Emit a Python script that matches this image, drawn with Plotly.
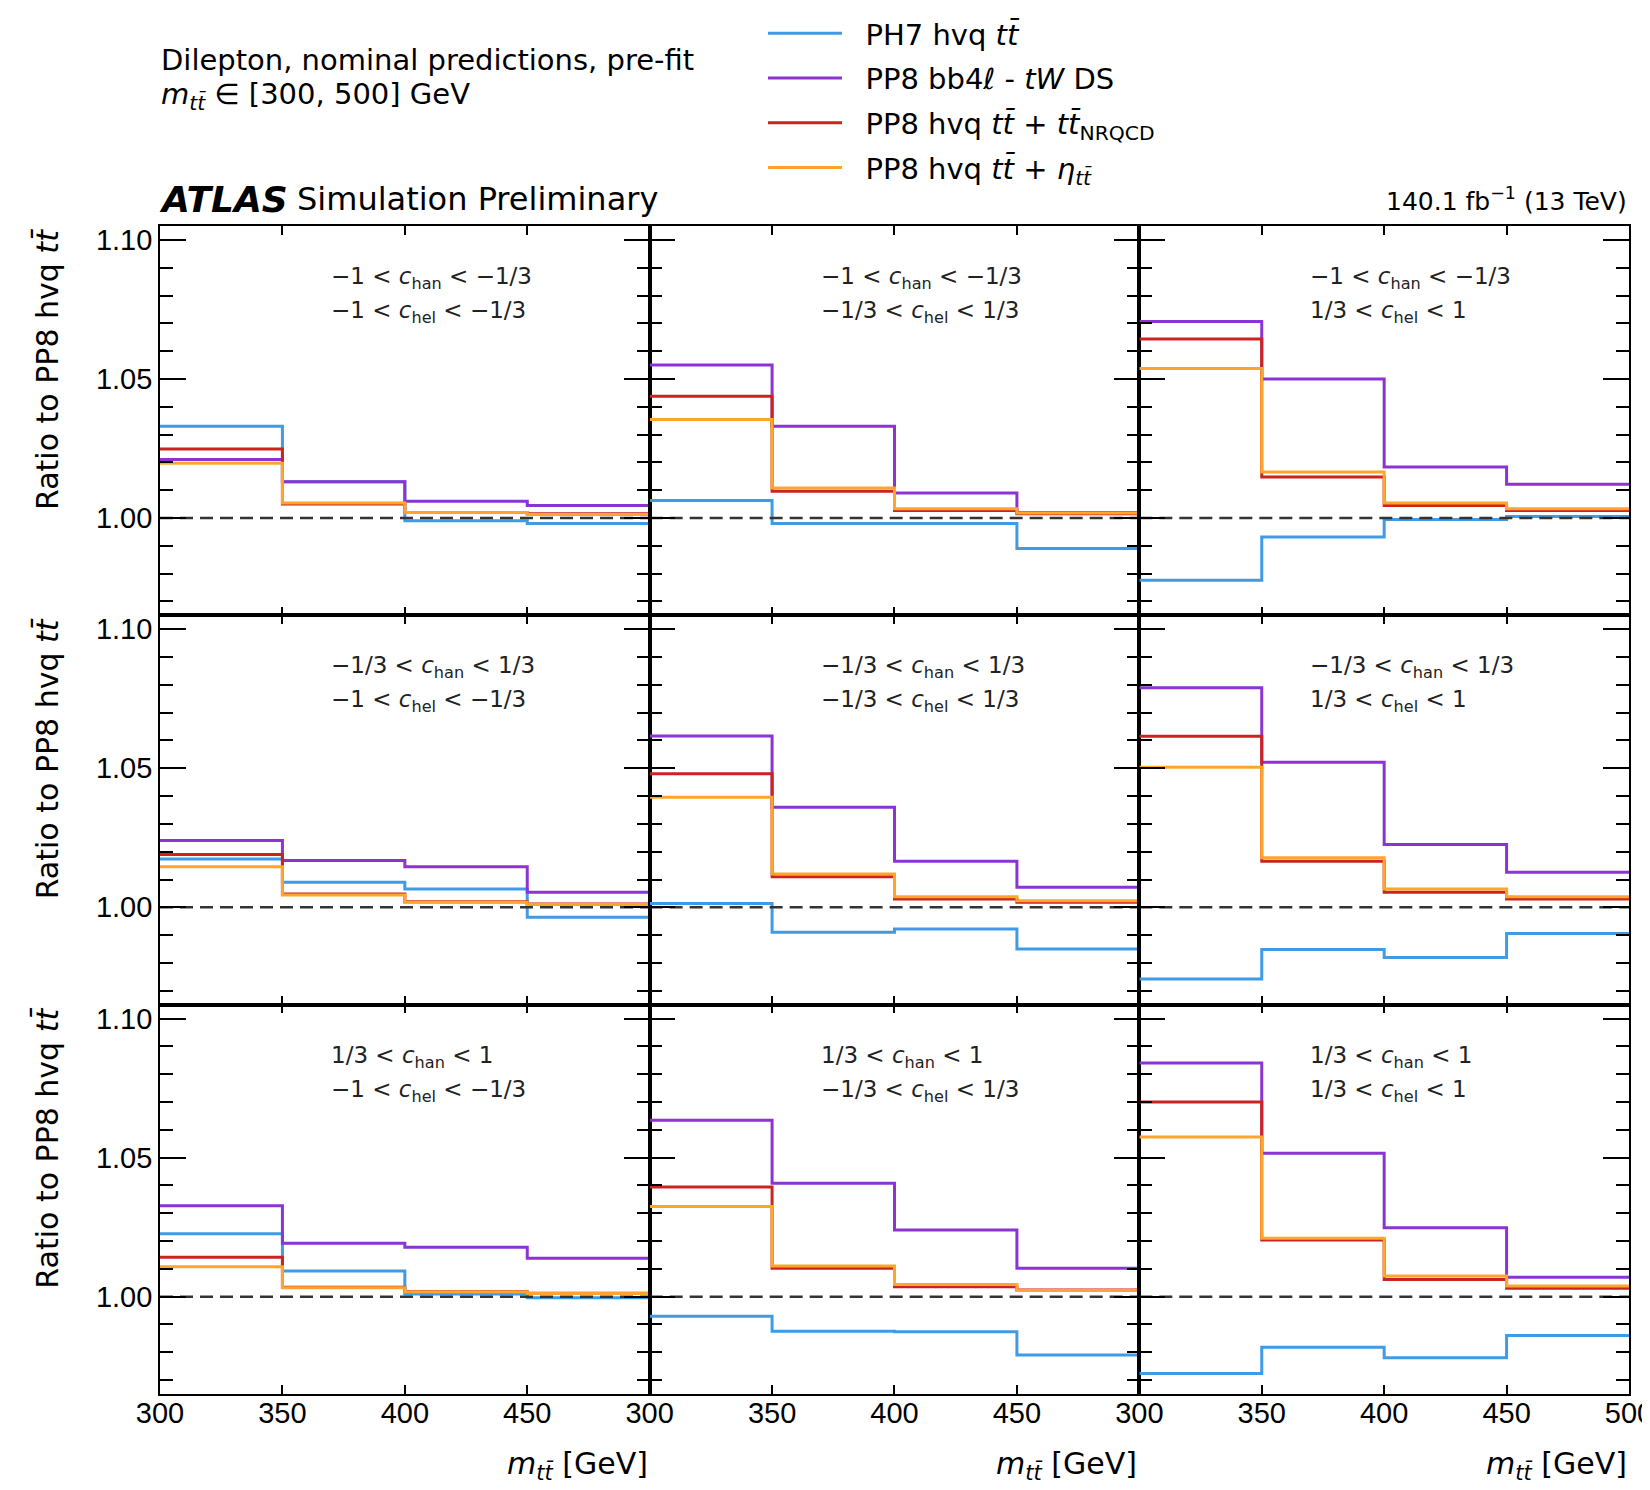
import plotly.graph_objects as go
from plotly.subplots import make_subplots

# ---------------- data ----------------
BIN_EDGES = [300, 350, 400, 450, 500]
REFERENCE_RATIO = 1.0

SERIES_NAMES = [
    "PH7 hvq <i>tt\u0304</i>",
    "PP8 bb4<i>\u2113</i> - <i>tW</i> DS",
    "PP8 hvq <i>tt\u0304</i> + <i>tt\u0304</i><sub>NRQCD</sub>",
    "PP8 hvq <i>tt\u0304</i> + <i>\u03b7</i><sub><i>tt\u0304</i></sub>",
]
SERIES_COLORS = ["#3f9be6", "#8c33d4", "#cc2320", "#ffa52b"]

# panels in row-major order: rows = c_han bins, columns = c_hel bins
PH7_HVQ = [
    [1.0330, 1.0130, 0.9990, 0.9980],
    [1.0063, 0.9980, 0.9980, 0.9890],
    [0.9776, 0.9932, 0.9995, 1.0005],
    [1.0174, 1.0090, 1.0066, 0.9964],
    [1.0014, 0.9910, 0.9922, 0.9850],
    [0.9742, 0.9848, 0.9820, 0.9906],
    [1.0226, 1.0092, 1.0010, 0.9996],
    [0.9930, 0.9876, 0.9874, 0.9790],
    [0.9724, 0.9818, 0.9780, 0.9860],
]
PP8_BB4L = [
    [1.0210, 1.0130, 1.0060, 1.0045],
    [1.0550, 1.0330, 1.0090, 1.0020],
    [1.0707, 1.0500, 1.0183, 1.0121],
    [1.0240, 1.0168, 1.0146, 1.0054],
    [1.0616, 1.0360, 1.0166, 1.0072],
    [1.0790, 1.0522, 1.0226, 1.0126],
    [1.0327, 1.0192, 1.0178, 1.0138],
    [1.0634, 1.0408, 1.0240, 1.0102],
    [1.0840, 1.0516, 1.0248, 1.0070],
]
PP8_NRQCD = [
    [1.0248, 1.0050, 1.0020, 1.0015],
    [1.0438, 1.0096, 1.0027, 1.0015],
    [1.0644, 1.0147, 1.0045, 1.0027],
    [1.0190, 1.0048, 1.0020, 1.0012],
    [1.0480, 1.0110, 1.0030, 1.0018],
    [1.0615, 1.0166, 1.0054, 1.0030],
    [1.0142, 1.0034, 1.0018, 1.0012],
    [1.0394, 1.0102, 1.0036, 1.0024],
    [1.0700, 1.0204, 1.0062, 1.0030],
]
PP8_ETA = [
    [1.0197, 1.0054, 1.0020, 1.0013],
    [1.0354, 1.0108, 1.0033, 1.0018],
    [1.0538, 1.0165, 1.0054, 1.0033],
    [1.0146, 1.0044, 1.0018, 1.0010],
    [1.0396, 1.0120, 1.0038, 1.0024],
    [1.0504, 1.0178, 1.0066, 1.0038],
    [1.0108, 1.0032, 1.0017, 1.0011],
    [1.0324, 1.0110, 1.0044, 1.0022],
    [1.0574, 1.0210, 1.0074, 1.0038],
]
SERIES_VALUES = [PH7_HVQ, PP8_BB4L, PP8_NRQCD, PP8_ETA]

CHAN_LABELS = [
    "\u22121 &lt; <i>c</i><sub>han</sub> &lt; \u22121/3",
    "\u22121/3 &lt; <i>c</i><sub>han</sub> &lt; 1/3",
    "1/3 &lt; <i>c</i><sub>han</sub> &lt; 1",
]
CHEL_LABELS = [
    "\u22121 &lt; <i>c</i><sub>hel</sub> &lt; \u22121/3",
    "\u22121/3 &lt; <i>c</i><sub>hel</sub> &lt; 1/3",
    "1/3 &lt; <i>c</i><sub>hel</sub> &lt; 1",
]
X_TICKS = [300, 350, 400, 450, 500]
Y_RANGE = [0.965, 1.105]

# ---------------- layout constants ----------------
OFF = 8                      # page body margin
W, H = 1642, 1482
ML, MR, MT, MB = 152, 21, 218, 96
PW = W - ML - MR
PH = H - MT - MB

TEXT_FONT = "DejaVu Sans"
TICK_FONT = "Liberation Sans, Arial"


def px_x(X):
    """page x pixel -> paper x"""
    return (X - OFF - ML) / PW


def px_y(Y):
    """page y pixel -> paper y"""
    return (H - MB - (Y - OFF)) / PH


fig = make_subplots(rows=3, cols=3, horizontal_spacing=0, vertical_spacing=0)

for p in range(9):
    r, c = p // 3 + 1, p % 3 + 1
    for s in range(4):
        vals = SERIES_VALUES[s][p]
        fig.add_trace(
            go.Scatter(
                x=BIN_EDGES,
                y=list(vals) + [vals[-1]],
                mode="lines",
                line=dict(color=SERIES_COLORS[s], width=3, shape="hv"),
                name="\u00a0\u00a0" + SERIES_NAMES[s],
                legendgroup=f"g{s}",
                showlegend=(p == 0),
                hoverinfo="skip",
            ),
            row=r, col=c,
        )
    fig.add_trace(
        go.Scatter(
            x=[BIN_EDGES[0], BIN_EDGES[-1]],
            y=[REFERENCE_RATIO, REFERENCE_RATIO],
            mode="lines",
            line=dict(color="#333333", width=2.5, dash="13px,7px"),
            showlegend=False,
            hoverinfo="skip",
        ),
        row=r, col=c,
    )

fig.update_xaxes(
    range=[BIN_EDGES[0], BIN_EDGES[-1]], automargin=False,
    tickmode="array", tickvals=X_TICKS,
    ticks="inside", ticklen=9, tickwidth=2, tickcolor="black",
    showline=True, linecolor="black", linewidth=1.6, mirror="ticks",
    showgrid=False, zeroline=False, showticklabels=False,
    ticklabeloverflow="allow", ticklabelstandoff=-8,
    tickfont=dict(family=TICK_FONT, size=29, color="black"),
)
fig.update_yaxes(
    range=Y_RANGE, automargin=False, tick0=1.0, dtick=0.05, tickformat=".2f",
    ticks="inside", ticklen=26, tickwidth=2, tickcolor="black",
    minor=dict(tick0=1.0, dtick=0.01, ticks="inside", ticklen=13,
               tickwidth=2, tickcolor="black", showgrid=False),
    showline=True, linecolor="black", linewidth=1.6, mirror="ticks",
    showgrid=False, zeroline=False, showticklabels=False,
    tickfont=dict(family=TICK_FONT, size=29, color="black"),
)
for c in range(1, 4):
    txt = [str(v) for v in X_TICKS]
    if c < 3:
        txt[-1] = ""
    fig.update_xaxes(showticklabels=True, ticktext=txt, row=3, col=c)
for r in range(1, 4):
    fig.update_yaxes(showticklabels=True, row=r, col=1)

annotations = []
# in-panel category labels
for p in range(9):
    r, c = p // 3, p % 3
    ax = p + 1
    xref = "x domain" if ax == 1 else f"x{ax} domain"
    yref = "y domain" if ax == 1 else f"y{ax} domain"
    for line_txt, yy in ((CHAN_LABELS[r], 1 - 52 / 389), (CHEL_LABELS[c], 1 - 86 / 389)):
        annotations.append(dict(
            text=line_txt, xref=xref, yref=yref, x=169 / 489.7, y=yy,
            xanchor="left", yanchor="middle", showarrow=False,
            font=dict(family=TEXT_FONT, size=23, color="#222"),
        ))

# y titles (top aligned)
for r in range(3):
    ax = r * 3 + 1
    yref = "y domain" if ax == 1 else f"y{ax} domain"
    annotations.append(dict(
        text="Ratio to PP8 hvq <i>tt\u0304</i>", textangle=-90,
        xref="paper", yref=yref, x=px_x(47), y=1.0,
        xanchor="center", yanchor="top", showarrow=False,
        font=dict(family=TEXT_FONT, size=30, color="black"),
    ))

# x titles (right aligned)
for c in range(3):
    ax = 7 + c
    annotations.append(dict(
        text="<i>m</i><sub><i>tt\u0304</i></sub> [GeV]",
        xref=f"x{ax} domain", yref="paper", x=1.0, y=px_y(1465),
        xanchor="right", yanchor="middle", showarrow=False,
        font=dict(family=TEXT_FONT, size=30, color="black"),
    ))

# header texts
annotations += [
    dict(text="Dilepton, nominal predictions, pre-fit", xref="paper", yref="paper",
         x=px_x(159), y=px_y(60), xanchor="left", yanchor="middle", showarrow=False,
         font=dict(family=TEXT_FONT, size=29, color="black")),
    dict(text="<i>m</i><sub><i>tt\u0304</i></sub> \u2208 [300, 500] GeV", xref="paper", yref="paper",
         x=px_x(159), y=px_y(96), xanchor="left", yanchor="middle", showarrow=False,
         font=dict(family=TEXT_FONT, size=29, color="black")),
    dict(text="<b><i>ATLAS</i></b>", xref="paper", yref="paper",
         x=px_x(157), y=px_y(199), xanchor="left", yanchor="middle", showarrow=False,
         font=dict(family=TEXT_FONT, size=36, color="black")),
    dict(text="Simulation Preliminary", xref="paper", yref="paper",
         x=px_x(295), y=px_y(199), xanchor="left", yanchor="middle", showarrow=False,
         font=dict(family=TEXT_FONT, size=32, color="black")),
    dict(text="140.1 fb<sup>\u22121</sup> (13 TeV)", xref="paper", yref="paper",
         x=1.0, y=px_y(200), xanchor="right", yanchor="middle", showarrow=False,
         font=dict(family=TEXT_FONT, size=25, color="black")),
]

fig.update_layout(
    width=W, height=H,
    margin=dict(l=ML, r=MR, t=MT, b=MB, autoexpand=False),
    paper_bgcolor="white", plot_bgcolor="white",
    annotations=annotations,
    showlegend=True,
    legend=dict(
        x=px_x(763), y=px_y(8), xanchor="left", yanchor="top",
        font=dict(family=TEXT_FONT, size=29, color="black"),
        bgcolor="rgba(0,0,0,0)", traceorder="grouped", tracegroupgap=4,
        itemwidth=74,
    ),
)

fig.write_html("out.html")
